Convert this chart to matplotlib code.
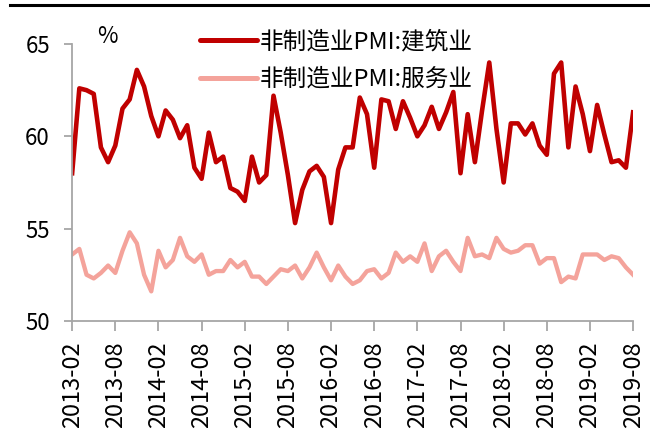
import numpy as np
import matplotlib
matplotlib.use("Agg")
import matplotlib.pyplot as plt
from matplotlib.lines import Line2D

plt.rcParams['font.family'] = ['Noto Sans CJK SC', 'DejaVu Sans']

# monthly data, 2013-02 .. 2019-08
construction = [
    58.0, 62.6, 62.5, 62.3, 59.4, 58.6, 59.5, 61.5, 62.0, 63.6, 62.7,
    61.1, 60.0, 61.4, 60.9, 59.9, 60.6, 58.3, 57.7, 60.2, 58.6, 58.9, 57.2,
    57.0, 56.5, 58.9, 57.5, 57.9, 62.2, 60.2, 57.9, 55.3, 57.1, 58.1, 58.4,
    57.8, 55.3, 58.2, 59.4, 59.4, 62.1, 61.2, 58.3, 62.0, 61.9, 60.4, 61.9,
    61.0, 60.0, 60.6, 61.6, 60.4, 61.3, 62.4, 58.0, 61.2, 58.6, 61.4, 64.0,
    60.4, 57.5, 60.7, 60.7, 60.1, 60.7, 59.5, 59.0, 63.4, 64.0, 59.4, 62.7,
    61.2, 59.2, 61.7, 60.1, 58.6, 58.7, 58.3, 61.3,
]
services = [
    53.6, 53.9, 52.5, 52.3, 52.6, 53.0, 52.6, 53.8, 54.8, 54.2, 52.5,
    51.6, 53.8, 52.9, 53.3, 54.5, 53.5, 53.2, 53.6, 52.5, 52.7, 52.7, 53.3,
    52.9, 53.2, 52.4, 52.4, 52.0, 52.4, 52.8, 52.7, 53.0, 52.3, 52.9, 53.7,
    52.9, 52.2, 53.0, 52.4, 52.0, 52.2, 52.7, 52.8, 52.3, 52.6, 53.7, 53.2,
    53.5, 53.2, 54.2, 52.7, 53.5, 53.8, 53.2, 52.7, 54.5, 53.5, 53.6, 53.4,
    54.5, 53.9, 53.7, 53.8, 54.1, 54.1, 53.1, 53.4, 53.4, 52.1, 52.4, 52.3,
    53.6, 53.6, 53.6, 53.3, 53.5, 53.4, 52.9, 52.5,
]
tick_labels = ['2013-02', '2013-08', '2014-02', '2014-08', '2015-02', '2015-08',
               '2016-02', '2016-08', '2017-02', '2017-08', '2018-02', '2018-08',
               '2019-02', '2019-08']
names = ['非制造业PMI:建筑业', '非制造业PMI:服务业']

x = np.arange(len(construction))

fig = plt.figure(figsize=(6.5, 4.36), dpi=100)
ax = fig.add_axes([0.111, 0.264, 0.863, 0.635])

ax.plot(x, construction, color='#C00000', lw=3.3, label=names[0], solid_joinstyle='round')
ax.plot(x, services, color='#F4A39B', lw=3.1, label=names[1], solid_joinstyle='round')

ax.set_xlim(0, len(x) - 1)
ax.set_ylim(50, 65)
ax.set_yticks([50, 55, 60, 65])
ax.set_xticks(np.arange(0, len(x), 6))
ax.set_xticklabels(tick_labels, rotation=90)

for s in ['top', 'right']:
    ax.spines[s].set_visible(False)
for s in ['left', 'bottom']:
    ax.spines[s].set_color('#A6A6A6')
    ax.spines[s].set_linewidth(1.3)
ax.tick_params(axis='both', colors='#A6A6A6', length=6, width=1.3,
               labelcolor='black')
ax.tick_params(axis='x', pad=8, labelsize=17, length=7)
ax.tick_params(axis='y', pad=10, labelsize=16)

ax.text(0.045, 0.985, '%', transform=ax.transAxes, fontsize=16, ha='left', va='bottom')

leg = ax.legend(loc='upper left', bbox_to_anchor=(0.19, 1.125), frameon=False,
                fontsize=17, handlelength=2.4, handletextpad=0.12, labelspacing=0.6)
for h in leg.get_lines():
    h.set_linewidth(3.6)
    h.set_solid_capstyle('round')

fig.add_artist(Line2D([10 / 650, 1.0], [1 - 5 / 436, 1 - 5 / 436], color='black', lw=2.2))

fig.savefig('out.png', dpi=100)
